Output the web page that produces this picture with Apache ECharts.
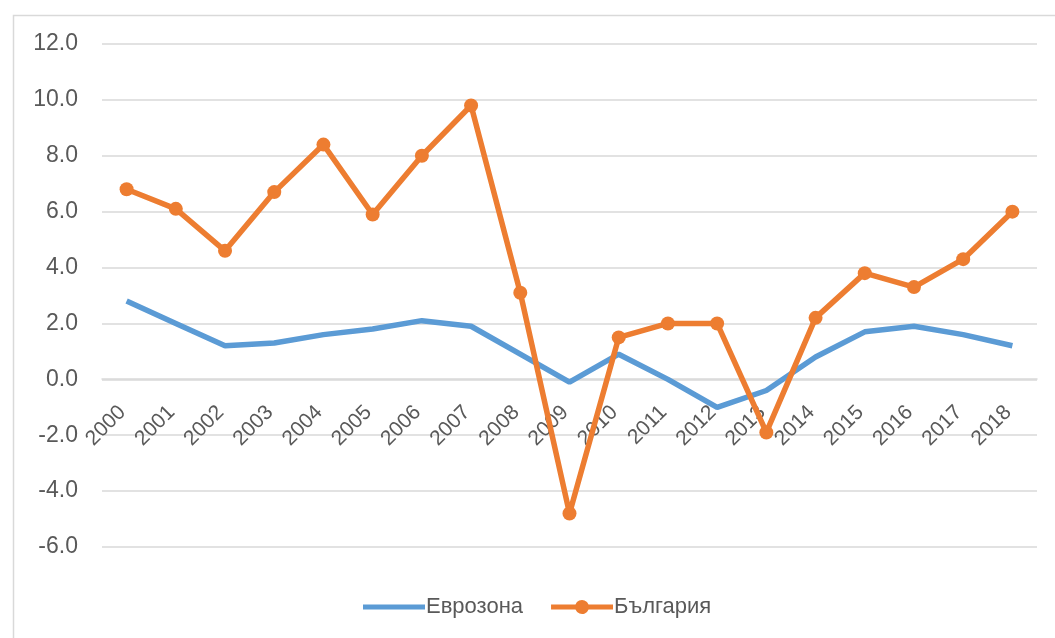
<!DOCTYPE html>
<html>
<head>
<meta charset="utf-8">
<script src="https://cdn.jsdelivr.net/npm/echarts@6/dist/echarts.min.js"></script>
<style>
    html, body { margin: 0; padding: 0; background: #fff; }
    #chart { width: 1055px; height: 638px; }
</style>
</head>
<body>
<div id="chart"></div>
<script>
var years = ["2000", "2001", "2002", "2003", "2004", "2005", "2006", "2007", "2008", "2009",
    "2010", "2011", "2012", "2013", "2014", "2015", "2016", "2017", "2018"];
var eurozone = [2.8, 2.0, 1.2, 1.3, 1.6, 1.8, 2.1, 1.9, 0.9, -0.1,
    0.9, 0.0, -1.0, -0.4, 0.8, 1.7, 1.9, 1.6, 1.2];
var bulgaria = [6.8, 6.1, 4.6, 6.7, 8.4, 5.9, 8.0, 9.8, 3.1, -4.8,
    1.5, 2.0, 2.0, -1.9, 2.2, 3.8, 3.3, 4.3, 6.0];
var seriesNames = ["Еврозона", "България"];

// legend icons: thick line, and thick line with a dot in the middle
var iconLine = "path://M0,0M62,14M0,4.5L62,4.5L62,9.5L0,9.5Z";
var iconLineDot = "path://M0,0M62,14M0,4.5L24.46,4.5A7,7,0,0,1,37.54,4.5L62,4.5L62,9.5L37.54,9.5A7,7,0,0,1,24.46,9.5L0,9.5Z";

var myChart = echarts.init(document.getElementById("chart"));
myChart.setOption({
    animation: false,
    textStyle: { fontFamily: "Liberation Sans, Arial, sans-serif" },
    graphic: [
        {
            type: "rect",
            left: 11,
            top: 13,
            shape: { width: 1100, height: 700 },
            style: { fill: "none", stroke: "#d9d9d9", lineWidth: 1.5 },
            silent: true
        }
    ],
    grid: { left: 102, right: 18, top: 44, bottom: 91 },
    legend: {
        left: 358,
        top: 591,
        itemWidth: 62,
        itemHeight: 14,
        itemGap: 28,
        textStyle: { fontSize: 22, color: "#595959", padding: [0, 0, 0, -4] },
        data: [
            { name: seriesNames[0], icon: iconLine },
            { name: seriesNames[1], icon: iconLineDot }
        ]
    },
    xAxis: {
        type: "category",
        data: years,
        boundaryGap: true,
        offset: -168,
        axisLine: { onZero: false, lineStyle: { color: "#d9d9d9", width: 1.5 } },
        axisTick: { show: false },
        axisLabel: {
            rotate: 45,
            margin: 26,
            padding: [0, 6, 0, 0],
            fontSize: 21,
            color: "#595959",
            interval: 0
        }
    },
    yAxis: {
        type: "value",
        min: -6,
        max: 12,
        interval: 2,
        axisLine: { show: false },
        axisTick: { show: false },
        splitLine: { lineStyle: { color: "#d9d9d9", width: 1.5 } },
        axisLabel: {
            fontSize: 23,
            color: "#595959",
            margin: 24,
            formatter: function (v) { return v.toFixed(1); }
        }
    },
    series: [
        {
            name: seriesNames[0],
            type: "line",
            data: eurozone,
            symbol: "none",
            lineStyle: { color: "#5b9bd5", width: 5.5 },
            itemStyle: { color: "#5b9bd5" }
        },
        {
            name: seriesNames[1],
            type: "line",
            data: bulgaria,
            symbol: "circle",
            symbolSize: 14,
            lineStyle: { color: "#ed7d31", width: 5.5 },
            itemStyle: { color: "#ed7d31" }
        }
    ]
});
</script>
</body>
</html>
